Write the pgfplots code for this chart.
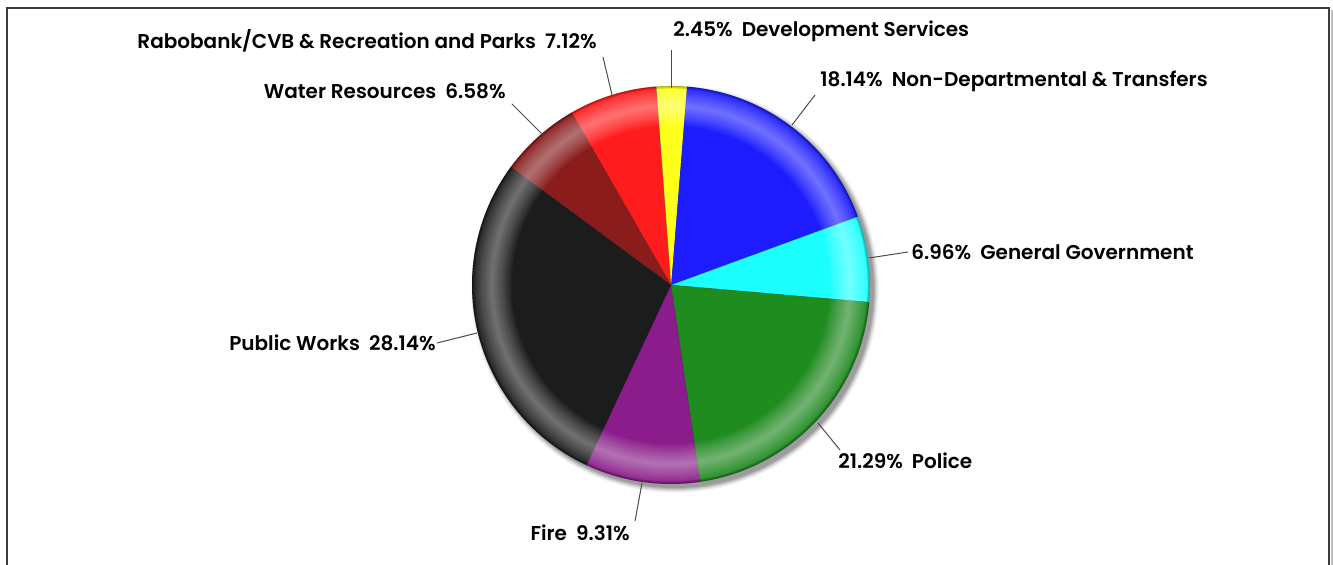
\documentclass[border=0pt]{standalone}
\usepackage{pgfplots}
\pgfplotsset{compat=1.18}
\usepackage{pgfplotstable}
\usepackage{fontspec}
\setmainfont{Poppins}[BoldFont={Poppins SemiBold}]

% slice colours
\definecolor{nondept}{RGB}{28,28,255}
\definecolor{gengov}{RGB}{28,255,255}
\definecolor{police}{RGB}{30,140,30}
\definecolor{fire}{RGB}{139,28,139}
\definecolor{publicworks}{RGB}{28,28,28}
\definecolor{water}{RGB}{139,28,28}
\definecolor{rabobank}{RGB}{255,28,28}
\definecolor{devsvc}{RGB}{255,255,28}
\definecolor{framecol}{RGB}{60,60,60}

% budget shares in percent, clockwise from the top
\pgfplotstableread{
share color
18.14 nondept
6.96  gengov
21.29 police
9.31  fire
28.14 publicworks
6.58  water
7.12  rabobank
2.45  devsvc
}\pietable

\newcommand{\lab}[1]{\fontsize{10}{12}\selectfont\bfseries #1}

\begin{document}
\begin{tikzpicture}
\begin{axis}[x=0.5pt, y=0.5pt, xmin=0, xmax=1333, ymin=0, ymax=565,
  hide axis, clip=false, anchor=origin, at={(0,0)}]

% outer frame
\draw[gray!50, line width=1pt] (axis cs:1331.5,555) -- (axis cs:1331.5,-40);
\draw[framecol, line width=1pt] (axis cs:7,-40) rectangle (axis cs:1329,557);

\pgfplotsextra{
  \coordinate (pc) at (axis cs:671,280);
  % soft drop shadow
  \foreach \k/\o in {0/0.12,1/0.10,2/0.09,3/0.07,4/0.05,5/0.03}{
    \fill[black, opacity=\o] ([shift={(2pt,-2pt)}]pc)
      circle[radius=99.5pt+\k*0.5pt];
  }
  % slices
  \gdef\cumangle{85.4}
  \foreach \i in {0,...,7}{
    \pgfplotstablegetelem{\i}{share}\of\pietable \let\share\pgfplotsretval
    \pgfplotstablegetelem{\i}{color}\of\pietable \let\col\pgfplotsretval
    \pgfmathsetmacro\aend{\cumangle-3.6*\share}
    \fill[\col] (pc) -- ([shift={(\cumangle:99.5pt)}]pc)
      arc[start angle=\cumangle, end angle=\aend, radius=99.5pt] -- cycle;
    \draw[black, opacity=0.25, line width=0.3pt] (pc) -- ([shift={(\cumangle:99.5pt)}]pc);
    \xdef\cumangle{\aend}
  }
  % glossy band near the rim: stacked translucent rings
  \foreach \k in {1,...,18}{
    \fill[white, opacity=0.028, even odd rule]
      (pc) circle[radius=99.5pt-(20-\k*1.1)*0.5pt]
      (pc) circle[radius=99.5pt-(20+\k*1.1)*0.5pt];
  }
  % darker outer edge
  \draw[black, opacity=0.18, line width=1.2pt] (pc) circle[radius=98.9pt];
  \draw[black, opacity=0.15, line width=0.5pt] (pc) circle[radius=99.25pt];
}

% leader lines
\draw[black!70, line width=0.5pt] (axis cs:612,470) -- (axis cs:603,508);
\draw[black!70, line width=0.5pt] (axis cs:543,430) -- (axis cs:512,461);
\draw[black!70, line width=0.5pt] (axis cs:671,477) -- (axis cs:671,515);
\draw[black!70, line width=0.5pt] (axis cs:792,440) -- (axis cs:815,470);
\draw[black!70, line width=0.5pt] (axis cs:869,307) -- (axis cs:908,313);
\draw[black!70, line width=0.5pt] (axis cs:818,142) -- (axis cs:840,115);
\draw[black!70, line width=0.5pt] (axis cs:642,82)  -- (axis cs:635,44);
\draw[black!70, line width=0.5pt] (axis cs:477,232) -- (axis cs:437,222);

% labels
\node[anchor=east, inner sep=0pt] at (axis cs:597,524) {\lab{Rabobank/CVB \& Recreation and Parks\hspace{0.45em}7.12\%}};
\node[anchor=east, inner sep=0pt] at (axis cs:506,474) {\lab{Water Resources\hspace{0.45em}6.58\%}};
\node[anchor=west, inner sep=0pt] at (axis cs:673,534) {\lab{2.45\%\hspace{0.45em}Development Services}};
\node[anchor=west, inner sep=0pt] at (axis cs:820,484) {\lab{18.14\%\hspace{0.45em}Non-Departmental \& Transfers}};
\node[anchor=west, inner sep=0pt] at (axis cs:911,313) {\lab{6.96\%\hspace{0.45em}General Government}};
\node[anchor=west, inner sep=0pt] at (axis cs:838,104) {\lab{21.29\%\hspace{0.45em}Police}};
\node[anchor=east, inner sep=0pt] at (axis cs:630,32)  {\lab{Fire\hspace{0.45em}9.31\%}};
\node[anchor=east, inner sep=0pt] at (axis cs:436,222) {\lab{Public Works\hspace{0.45em}28.14\%}};
\end{axis}
\pgfresetboundingbox
\path[use as bounding box] (0,0) rectangle (666.5pt,282.5pt);
\end{tikzpicture}
\end{document}
